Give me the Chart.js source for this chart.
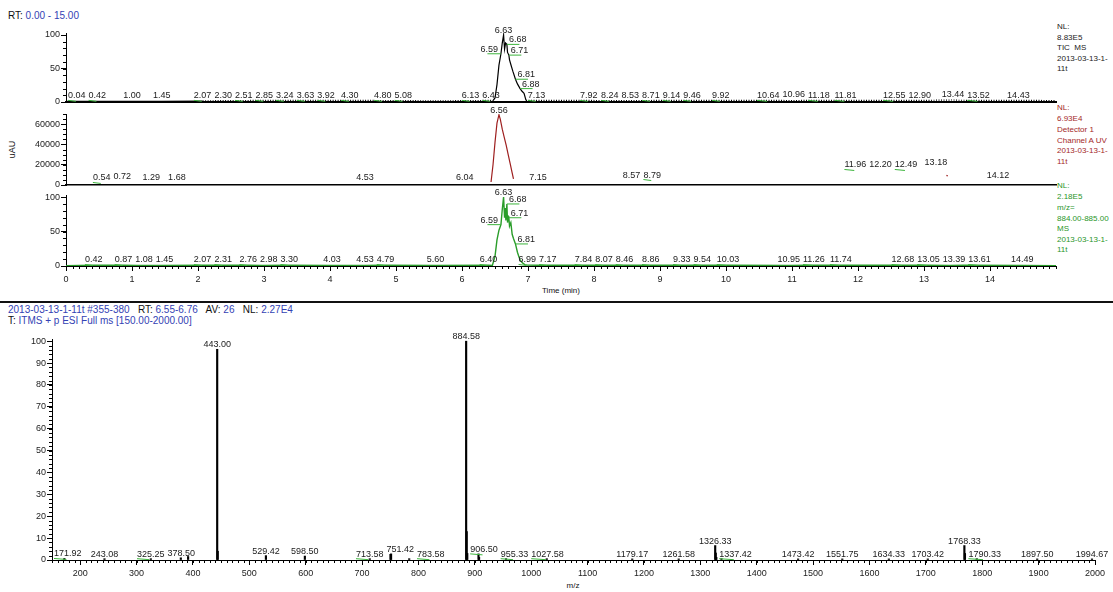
<!DOCTYPE html>
<html>
<head>
<meta charset="utf-8">
<title>Chromatogram and spectrum</title>
<script src="https://cdn.jsdelivr.net/npm/chart.js@4.4.1/dist/chart.umd.min.js"></script>
<style>
  html, body { margin: 0; padding: 0; background: #fff; }
  body { width: 1113px; height: 592px; position: relative; overflow: hidden; font-family: "Liberation Sans", Arial, sans-serif; }
  canvas { position: absolute; left: 0; top: 0; }
  .txt { position: absolute; white-space: pre; font-size: 10px; line-height: 11px; color: #111; }
  .v { color: #3342b4; }
  .side { position: absolute; left: 1057px; font-size: 8px; line-height: 10.5px; white-space: pre; }
  .axt { position: absolute; width: 100px; text-align: center; font-size: 8px; line-height: 11px; color: #111; }
  #sep { position: absolute; left: 0; top: 301px; width: 1113px; border-top: 2px solid #111; }
</style>
</head>
<body>
<div class="txt" style="left:8px;top:10px">RT: <span class="v">0.00 - 15.00</span></div>

<div class="side" style="top:22px;color:#222">NL:
8.83E5
TIC  MS
2013-03-13-1-
11t</div>
<div class="side" style="top:103px;color:#a42828">NL:
6.93E4<div style="margin-top:1px">Detector 1
Channel A UV
2013-03-13-1-
11t</div></div>
<div class="side" style="top:181px;color:#2a962a">NL:
2.18E5<div style="margin-top:1px">m/z=
884.00-885.00
MS
2013-03-13-1-
11t</div></div>

<div class="txt" style="left:-3px;top:144px;width:30px;text-align:center;font-size:9px;transform:rotate(-90deg)">uAU</div>
<div class="axt" style="left:511px;top:285px">Time (min)</div>

<div id="sep"></div>
<div class="txt" style="left:8px;top:304px"><span class="v">2013-03-13-1-11t #355-380</span>   RT: <span class="v">6.55-6.76</span>   AV: <span class="v">26</span>   NL: <span class="v">2.27E4</span></div>
<div class="txt" style="left:8px;top:315px">T: <span class="v">ITMS + p ESI Full ms [150.00-2000.00]</span></div>
<div class="axt" style="left:523px;top:580px">m/z</div>

<canvas id="tic" width="1113" height="592"></canvas>
<canvas id="uv" width="1113" height="592"></canvas>
<canvas id="xic" width="1113" height="592"></canvas>
<canvas id="spec" width="1113" height="592"></canvas>

<script>
// TIC MS trace (relative abundance, NL 8.83E5)
const ticRt  = [0, 0.04, 0.42, 1.00, 1.45, 2.07, 2.30, 2.51, 2.85, 3.24, 3.63, 3.92, 4.30, 4.80, 5.08, 5.60, 6.13, 6.43, 6.47, 6.50,
                6.53, 6.56, 6.59, 6.61, 6.63, 6.645, 6.66, 6.68, 6.69, 6.71, 6.72, 6.74, 6.77, 6.81, 6.84, 6.88, 6.91, 6.94, 6.97, 7.13,
                7.92, 8.24, 8.53, 8.71, 9.14, 9.46, 9.92, 10.64, 10.96, 11.18, 11.81, 12.55, 12.90, 13.44, 13.52, 14.43, 15.00];
const ticRel = [0.8, 1.0, 1.0, 0.8, 0.8, 1.5, 2.0, 2.2, 2.3, 2.4, 2.5, 2.4, 2.5, 2.2, 2.0, 1.8, 2.0, 2.5, 2.0, 6,
                26, 55, 72, 88, 100, 79, 88, 86, 74, 70, 63, 56, 46, 34, 27, 20, 16, 13, 2.5, 2.4,
                2.3, 2.2, 2.0, 2.2, 2.4, 2.5, 2.4, 2.5, 2.2, 2.3, 2.4, 2.5, 2.3, 3.0, 2.6, 2.4, 2.2];
const ticNoiseFrom = 2.07;
const ticPeakRt = [0.04, 0.42, 1.00, 1.45, 2.07, 2.30, 2.51, 2.85, 3.24, 3.63, 3.92, 4.30, 4.80, 5.08, 6.13, 6.43,
                   6.59, 6.63, 6.68, 6.71, 6.81, 6.88,
                   7.13, 7.92, 8.24, 8.53, 8.71, 9.14, 9.46, 9.92, 10.64, 10.96, 11.18, 11.81, 12.55, 12.90, 13.44, 13.52, 14.43];
const ticPeakHt = [2.5, 2.5, 2.5, 2.5, 2.5, 2.5, 2.5, 2.5, 2.5, 2.5, 2.5, 2.5, 2.5, 2.5, 2.5, 2.5,
                   72, 100, 86, 70, 34, 20,
                   2.5, 2.5, 2.5, 2.5, 2.5, 2.5, 2.5, 2.5, 2.5, 4.5, 2.5, 2.5, 2.5, 2.5, 4.5, 2.5, 2.5];
const ticLeader = [1, 1, 0, 0, 1, 0, 1, 1, 1, 1, 1, 1, 1, 1, 1, 1,
                   1, 0, 1, 1, 1, 1,
                   1, 1, 1, 0, 1, 1, 1, 1, 1, 0, 1, 1, 1, 0, 0, 1, 0];

// UV detector trace (uAU, NL 6.93E4)
const uvRt  = [6.44, 6.47, 6.50, 6.53, 6.56, 6.58, 6.61, 6.64, 6.67, 6.70, 6.73, 6.76, 6.78, 10.00, 13.34, 13.36];
const uvAbs = [3000, 20000, 42000, 61000, 69300, 65000, 55000, 47000, 39000, 30000, 21000, 12000, 6000, null, 9500, 8800];
const uvPeakRt = [0.54, 0.72, 1.29, 1.68, 4.53, 6.04, 6.56, 7.15, 8.57, 8.79, 11.96, 12.20, 12.49, 13.18, 14.12];
const uvPeakHt = [2500, 4400, 2500, 2500, 2500, 2500, 69300, 2500, 5400, 5400, 15300, 15300, 15300, 18200, 5400];
const uvLeader = [1, 0, 0, 0, 0, 0, 0, 0, 0, 1, 1, 0, 1, 0, 0];

// extracted ion trace m/z 884.00-885.00 (relative, NL 2.18E5)
const xicRt  = [0, 0.42, 0.87, 1.08, 1.45, 2.07, 2.31, 2.76, 2.98, 3.30, 4.03, 4.53, 4.79, 5.60, 6.40, 6.46, 6.50, 6.53, 6.56, 6.59,
                6.61, 6.63, 6.645, 6.655, 6.665, 6.68, 6.69, 6.70, 6.71, 6.72, 6.74, 6.76, 6.78, 6.81, 6.84, 6.86, 6.88, 6.91, 6.95, 6.99,
                7.17, 7.84, 8.07, 8.46, 8.86, 9.33, 9.54, 10.03, 10.95, 11.26, 11.74, 12.68, 13.05, 13.39, 13.61, 14.49, 15.00];
const xicRel = [0.6, 1.0, 1.0, 0.8, 0.8, 1.0, 1.0, 1.0, 0.8, 1.0, 0.8, 0.8, 1.0, 0.8, 1.2, 0.8, 14, 38, 52, 60,
                82, 100, 70, 84, 66, 90, 63, 72, 70, 58, 63, 46, 40, 32, 20, 14, 9, 5, 2, 1.2,
                1.0, 1.0, 1.0, 1.0, 1.0, 1.0, 1.0, 1.0, 0.8, 1.0, 1.0, 1.0, 1.0, 0.8, 1.0, 0.8, 0.6];
const xicPeakRt = [0.42, 0.87, 1.08, 1.45, 2.07, 2.31, 2.76, 2.98, 3.30, 4.03, 4.53, 4.79, 5.60, 6.40,
                   6.59, 6.63, 6.68, 6.71, 6.81,
                   6.99, 7.17, 7.84, 8.07, 8.46, 8.86, 9.33, 9.54, 10.03, 10.95, 11.26, 11.74, 12.68, 13.05, 13.39, 13.61, 14.49];
const xicPeakHt = [2.2, 2.2, 2.2, 2.2, 2.2, 2.2, 2.2, 2.2, 2.2, 2.2, 2.2, 2.2, 2.2, 2.2,
                   60, 100, 90, 70, 32,
                   2.2, 2.2, 2.2, 2.2, 2.2, 2.2, 2.2, 2.2, 2.2, 2.2, 2.2, 2.2, 2.2, 2.2, 2.2, 2.2, 2.2];
const xicLeader = [1, 1, 0, 0, 1, 1, 1, 0, 1, 0, 0, 1, 0, 1,
                   1, 0, 1, 1, 1,
                   1, 1, 1, 1, 1, 1, 1, 1, 1, 0, 1, 1, 1, 1, 0, 1, 0];

// averaged full-scan spectrum, scans 355-380
const specMz  = [171.92, 243.08, 325.25, 378.50, 391.42, 443.00, 444.00, 529.42, 598.50, 713.58, 750.33, 751.42, 783.58, 884.58, 885.58,
                 886.58, 906.50, 907.50, 955.33, 1027.58, 1179.17, 1261.58, 1326.33, 1327.33, 1328.33, 1337.42, 1473.42, 1551.75, 1634.33, 1703.42,
                 1768.33, 1769.33, 1790.33, 1897.50, 1994.67];
const specRel = [0.7, 0.6, 0.6, 1.0, 1.6, 96.3, 4.0, 2.0, 1.8, 0.6, 2.6, 2.8, 0.6, 100, 13.0,
                 3.0, 2.8, 1.2, 0.6, 0.6, 0.5, 0.5, 6.6, 3.2, 1.2, 0.6, 0.5, 0.5, 0.5, 0.5,
                 6.6, 3.0, 0.6, 0.5, 0.5];
const specLabelled = [1, 1, 1, 1, 0, 1, 0, 1, 1, 1, 0, 1, 1, 1, 0,
                      0, 1, 0, 1, 1, 1, 1, 1, 0, 0, 1, 1, 1, 1, 1,
                      1, 0, 1, 1, 1];
const specLeader   = [1, 0, 1, 0, 0, 0, 0, 0, 0, 1, 0, 0, 1, 0, 0,
                      0, 1, 0, 1, 1, 0, 0, 0, 0, 0, 1, 0, 0, 0, 0,
                      0, 0, 1, 0, 0];

// axis tick labels
const rtTicks = [0, 1, 2, 3, 4, 5, 6, 7, 8, 9, 10, 11, 12, 13, 14];
const relTicks = [0, 50, 100];
const uvTicks = [0, 20000, 40000, 60000];
const specRelTicks = [0, 10, 20, 30, 40, 50, 60, 70, 80, 90, 100];
const mzTicks = [200, 300, 400, 500, 600, 700, 800, 900, 1000, 1100, 1200, 1300, 1400, 1500, 1600, 1700, 1800, 1900, 2000];

const FONT_FAMILY = '"Liberation Sans", Arial, sans-serif';
const TICK_FONT = { family: FONT_FAMILY, size: 9 };
const LABEL_FONT = '9px ' + FONT_FAMILY;

// peak apex labels with the little green leader lines
const peakLabels = {
  id: 'peakLabels',
  afterDatasetsDraw(chart, _args, opts) {
    const { ctx, chartArea, scales: { x, y } } = chart;
    const top = Math.max(...opts.height);
    const apexAt = opts.at[opts.height.indexOf(top)];
    const bars = opts.avoidBars
      ? chart.data.datasets[0].data.map(d => ({ px: x.getPixelForValue(d.x), py: y.getPixelForValue(d.y) }))
      : [];
    const placed = [];
    ctx.save();
    ctx.font = LABEL_FONT;
    ctx.lineWidth = 1;
    opts.at.forEach((at, i) => {
      const text = at.toFixed(2);
      const w = ctx.measureText(text).width;
      const px = x.getPixelForValue(at);
      const py = y.getPixelForValue(opts.height[i]);
      const base = py - 2;
      const onFlank = at !== apexAt && Math.abs(at - apexAt) < opts.flank && opts.height[i] > top * 0.12;
      let left;
      if (onFlank) {
        left = at < apexAt ? px - w - 3 : px + 2;
      } else {
        left = Math.max(px - w / 2, chartArea.left + 2);
        // push right past earlier labels and past taller sticks
        let moved = true;
        while (moved) {
          moved = false;
          placed.forEach(b => {
            if (Math.abs(b.base - base) < 9 && left < b.right + 3 && left + w > b.left) { left = b.right + 3; moved = true; }
          });
          bars.forEach(b => {
            if (b.py < base && b.px > left - 1 && b.px < left + w + 1) { left = b.px + 4; moved = true; }
          });
        }
      }
      placed.push({ left, right: left + w, base });
      ctx.fillStyle = '#1a1a1a';
      ctx.fillText(text, left, base);
      if (opts.leader[i]) {
        ctx.strokeStyle = '#3cb43c';
        ctx.beginPath();
        if (onFlank) {
          ctx.moveTo(px, py);
          ctx.lineTo(at < apexAt ? left + w * 0.4 : left + w * 0.6, base + 2);
        } else {
          ctx.moveTo(left, base + 2);
          ctx.lineTo(left + w * 0.45, base + 3);
        }
        ctx.stroke();
      }
    });
    ctx.restore();
  }
};

// short unlabeled ticks between the major ones
const minorTicks = {
  id: 'minorTicks',
  afterDraw(chart, _args, opts) {
    const { ctx } = chart;
    ctx.save();
    ctx.strokeStyle = '#000';
    ctx.lineWidth = 1;
    ctx.beginPath();
    Object.entries(opts.steps).forEach(([id, step]) => {
      const s = chart.scales[id];
      for (let k = Math.ceil(s.min / step - 1e-9); k * step <= s.max + 1e-9; k++) {
        const p = Math.round(s.getPixelForValue(k * step)) + 0.5;
        if (s.isHorizontal()) { ctx.moveTo(p, s.top); ctx.lineTo(p, s.top + 3); }
        else { ctx.moveTo(s.right - 3, p); ctx.lineTo(s.right, p); }
      }
    });
    ctx.stroke();
    ctx.restore();
  }
};

function valueAxis(max, ticks, width) {
  return {
    type: 'linear', min: 0, max,
    afterBuildTicks: s => { s.ticks = ticks.map(value => ({ value })); },
    afterFit: s => { s.width = width; },
    ticks: { font: TICK_FONT, color: '#222', padding: 1, callback: v => String(v) },
    grid: { drawOnChartArea: false, tickLength: 5, color: '#000' },
    border: { color: '#000', width: 1 }
  };
}

function positionAxis(min, max, ticks, height, showTicks, borderWidth) {
  return {
    type: 'linear', min, max, offset: false,
    afterBuildTicks: s => { s.ticks = ticks.map(value => ({ value })); },
    afterFit: s => { s.height = height; },
    ticks: { display: showTicks, font: TICK_FONT, color: '#222', padding: 3, maxRotation: 0, autoSkip: false, callback: v => String(v) },
    grid: { display: showTicks, offset: false, drawOnChartArea: false, tickLength: 5, color: '#000' },
    border: { color: '#000', width: borderWidth }
  };
}

function options(area, xHeight, x, y, labels, minor) {
  return {
    responsive: false, animation: false, events: [],
    layout: { padding: { left: 0, top: area.top, right: 1113 - area.right, bottom: 592 - area.bottom - xHeight } },
    scales: { x, y },
    plugins: { legend: { display: false }, tooltip: { enabled: false }, peakLabels: labels, minorTicks: { steps: minor } }
  };
}

const points = (xs, ys) => xs.map((x, i) => ({ x, y: ys[i] }));

new Chart(document.getElementById('tic'), {
  type: 'line',
  data: { datasets: [{
    data: points(ticRt, ticRel),
    borderColor: '#000', borderWidth: 1.2, pointRadius: 0,
    segment: { borderDash: s => (s.p0.parsed.x >= ticNoiseFrom && s.p0.parsed.y < 5 && s.p1.parsed.y < 5 ? [1, 1.5] : undefined) }
  }] },
  options: options({ left: 66, right: 1056, top: 33, bottom: 102 }, 0,
    positionAxis(0, 15, rtTicks, 0, false, 2),
    valueAxis(103, relTicks, 66),
    { at: ticPeakRt, height: ticPeakHt, leader: ticLeader, flank: 0.5 },
    { y: 10 }),
  plugins: [peakLabels, minorTicks]
});

new Chart(document.getElementById('uv'), {
  type: 'line',
  data: { datasets: [{
    data: points(uvRt, uvAbs),
    borderColor: '#9e1f1f', borderWidth: 1.2, pointRadius: 0, spanGaps: false
  }] },
  options: options({ left: 66, right: 1056, top: 114, bottom: 185 }, 0,
    positionAxis(0, 15, rtTicks, 0, false, 1.5),
    valueAxis(70000, uvTicks, 66),
    { at: uvPeakRt, height: uvPeakHt, leader: uvLeader, flank: 0.5 },
    { y: 5000 }),
  plugins: [peakLabels, minorTicks]
});

new Chart(document.getElementById('xic'), {
  type: 'line',
  data: { datasets: [{
    data: points(xicRt, xicRel),
    borderColor: '#2a9d2a', borderWidth: 1.4, pointRadius: 0
  }] },
  options: options({ left: 66, right: 1056, top: 195, bottom: 266 }, 30,
    positionAxis(0, 15, rtTicks, 30, true, 1),
    valueAxis(103, relTicks, 66),
    { at: xicPeakRt, height: xicPeakHt, leader: xicLeader, flank: 0.5 },
    { x: 0.1, y: 10 }),
  plugins: [peakLabels, minorTicks]
});

new Chart(document.getElementById('spec'), {
  type: 'bar',
  data: { datasets: [{
    data: points(specMz, specRel),
    backgroundColor: '#000', borderWidth: 0, barThickness: 1.5
  }] },
  options: options({ left: 52, right: 1095, top: 339, bottom: 560 }, 25,
    positionAxis(150, 2000, mzTicks, 25, true, 1),
    valueAxis(101, specRelTicks, 52),
    {
      at: specMz.filter((_, i) => specLabelled[i]),
      height: specRel.filter((_, i) => specLabelled[i]),
      leader: specLeader.filter((_, i) => specLabelled[i]),
      flank: 0,
      avoidBars: true
    },
    { x: 10, y: 2 }),
  plugins: [peakLabels, minorTicks]
});
</script>
</body>
</html>
